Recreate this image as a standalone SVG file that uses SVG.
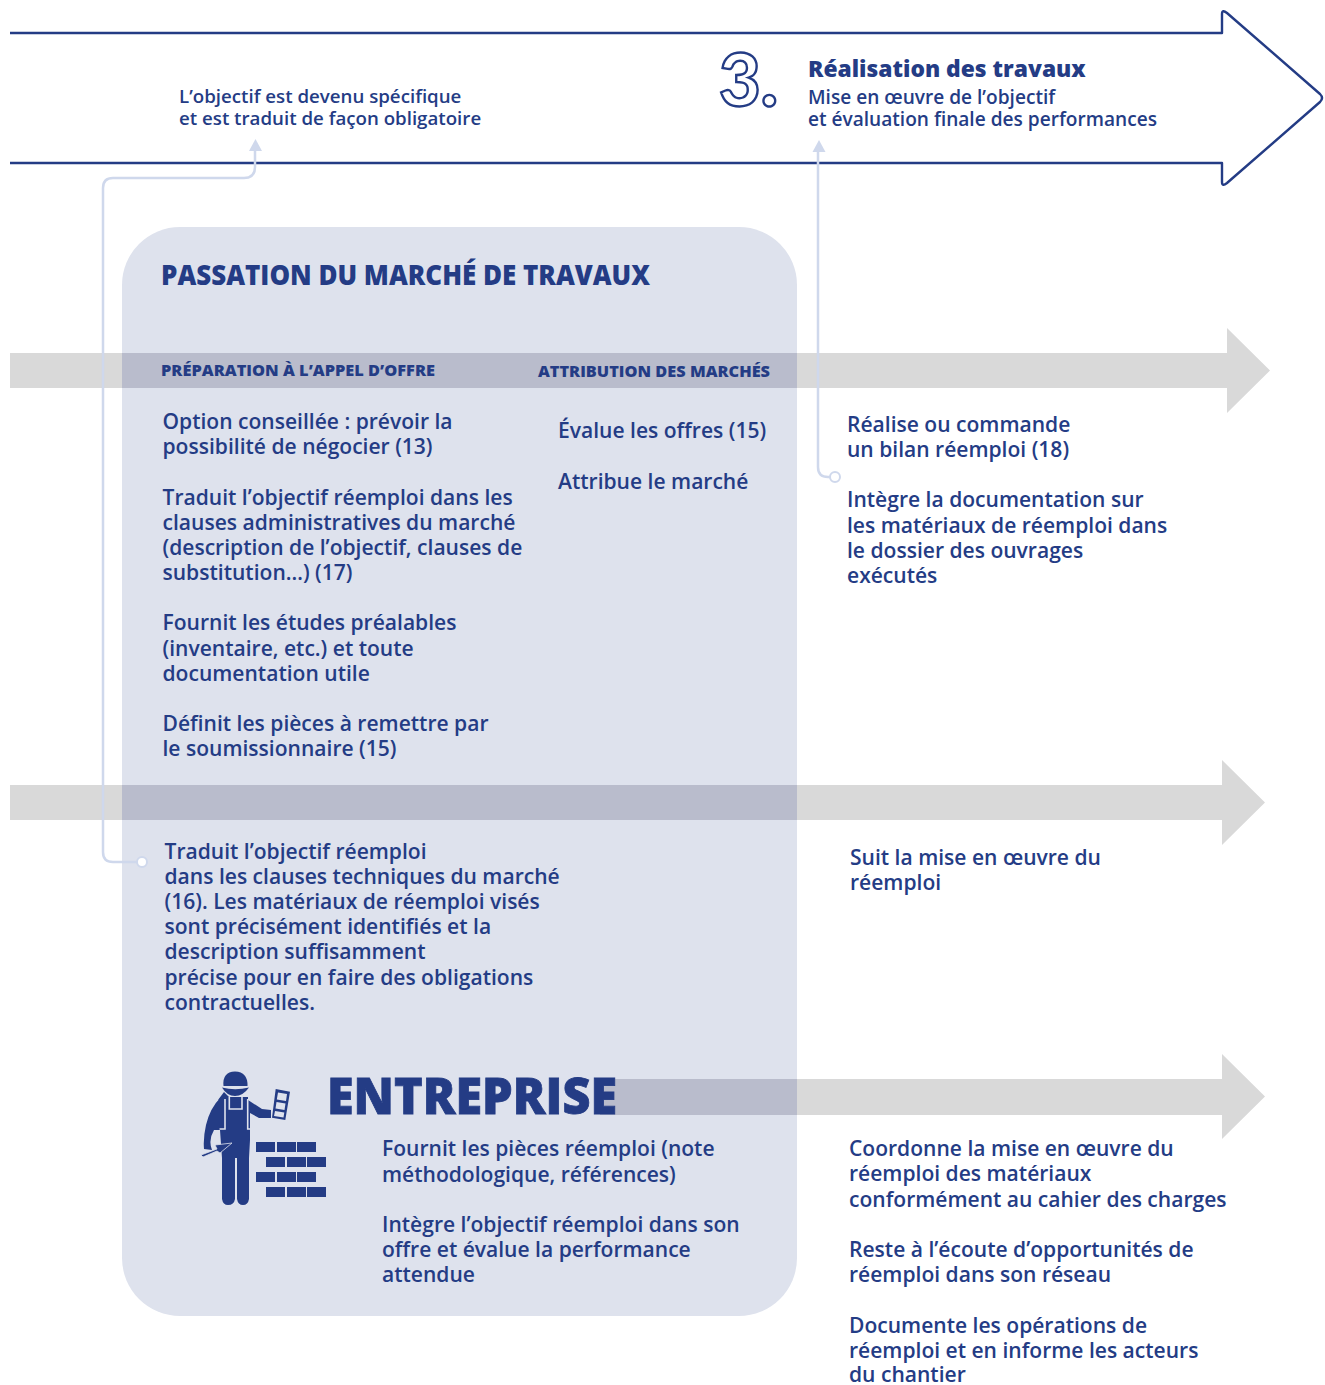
<svg xmlns="http://www.w3.org/2000/svg" width="1325" height="1385" viewBox="0 0 1325 1385">
<style>
text{font-family:"Open Sans","Noto Sans",sans-serif;fill:#243c85;font-weight:600}
.b{font-size:21.050px}
.s{font-size:19.100px}
.o{font-size:18.700px}
.h{font-size:16.500px;font-weight:800}
.band{fill:#d9d9d9}
.over{fill:#b9bccc}
.conn{fill:none;stroke:#cfd8ec;stroke-width:2.500}
.brick{fill:#243c85}
.fig{fill:#243c85}
.cut{fill:none;stroke:#dee2ed;stroke-width:1.600}
</style>
<rect width="1325" height="1385" fill="#fff"/>
<g id="main-arrow"><path d="M10 33H1222V14Q1222 9 1227 13L1320 94Q1324 98 1320 102L1227 183Q1222 187 1222 182V163H10" fill="none" stroke="#243c85" stroke-width="2.400" stroke-linejoin="round"/>
<text x="719" y="105.500" style="font-size:72px;font-weight:900;font-family:'Lato','Noto Sans',sans-serif;fill:none;stroke:#243c85;stroke-width:2.400">3.</text>
<text x="808" y="77" style="font-size:22.800px;font-weight:800">Réalisation des travaux</text>
<text x="808" y="104" class="s">Mise en œuvre de l’objectif</text>
<text x="808" y="126" class="s">et évaluation finale des performances</text>
</g>
<g id="objectif"><text x="179" y="103" class="o">L’objectif est devenu spécifique</text>
<text x="179" y="125" class="o">et est traduit de façon obligatoire</text></g>
<g id="bands">
<path class="band" d="M10 353H1227V328L1270 370.500L1227 413V388H10Z"/>
<path class="band" d="M10 785H1222V760L1265 802.500L1222 845V820H10Z"/>
<path class="band" d="M600 1079H1222V1054L1265 1096.500L1222 1139V1115H600Z"/>
</g>
<g id="panel"><rect x="122" y="227" width="675" height="1089" rx="58" fill="#dee2ed"/>
<rect class="over" x="122" y="353" width="675" height="35"/>
<rect class="over" x="122" y="785" width="675" height="35"/>
<rect class="over" x="600" y="1079" width="197" height="36"/>
<text x="161" y="285" textLength="489" lengthAdjust="spacingAndGlyphs" style="font-size:28px;font-weight:800">PASSATION DU MARCHÉ DE TRAVAUX</text>
<text x="161" y="376" class="h" textLength="274" lengthAdjust="spacingAndGlyphs">PRÉPARATION À L’APPEL D’OFFRE</text>
<text x="538" y="377" class="h" textLength="232" lengthAdjust="spacingAndGlyphs">ATTRIBUTION DES MARCHÉS</text></g>
<g id="preparation">
<text x="162.500" y="429" class="b">Option conseillée : prévoir la</text>
<text x="162.500" y="454" class="b">possibilité de négocier (13)</text>
<text x="162.500" y="505" class="b">Traduit l’objectif réemploi dans les</text>
<text x="162.500" y="530" class="b">clauses administratives du marché</text>
<text x="162.500" y="555" class="b">(description de l’objectif, clauses de</text>
<text x="162.500" y="580" class="b">substitution…) (17)</text>
<text x="162.500" y="630" class="b">Fournit les études préalables</text>
<text x="162.500" y="656" class="b">(inventaire, etc.) et toute</text>
<text x="162.500" y="681" class="b">documentation utile</text>
<text x="162.500" y="731" class="b">Définit les pièces à remettre par</text>
<text x="162.500" y="756" class="b">le soumissionnaire (15)</text>
</g>
<g id="attribution">
<text x="558" y="438" class="b">Évalue les offres (15)</text>
<text x="558" y="489" class="b">Attribue le marché</text>
</g>
<g id="realisation">
<text x="847" y="432" class="b">Réalise ou commande</text>
<text x="847" y="457" class="b">un bilan réemploi (18)</text>
<text x="847" y="507" class="b">Intègre la documentation sur</text>
<text x="847" y="533" class="b">les matériaux de réemploi dans</text>
<text x="847" y="558" class="b">le dossier des ouvrages</text>
<text x="847" y="583" class="b">exécutés</text>
</g>
<g id="clauses">
<text x="164.500" y="859" class="b">Traduit l’objectif réemploi</text>
<text x="164.500" y="884" class="b">dans les clauses techniques du marché</text>
<text x="164.500" y="909" class="b">(16). Les matériaux de réemploi visés</text>
<text x="164.500" y="934" class="b">sont précisément identifiés et la</text>
<text x="164.500" y="959" class="b">description suffisamment</text>
<text x="164.500" y="985" class="b">précise pour en faire des obligations</text>
<text x="164.500" y="1010" class="b">contractuelles.</text>
</g>
<g id="suivi">
<text x="850" y="865" class="b">Suit la mise en œuvre du</text>
<text x="850" y="890" class="b">réemploi</text>
</g>
<g id="entreprise">
<text x="327" y="1114" textLength="290" lengthAdjust="spacingAndGlyphs" style="font-size:49px;font-weight:800;stroke:#243c85;stroke-width:.8">ENTREPRISE</text>
<g id="worker">
<path class="fig" d="M223.500 1086Q222 1072 235 1071.500Q248 1072 247.500 1086Z"/>
<path class="fig" d="M222 1087.500Q235 1091 249 1087.500Q243 1096 235 1096Q227 1096 222 1087.500Z"/>
<path class="fig" d="M218 1100L224 1092L229 1097Z"/>
<path class="fig" d="M221 1097H248V1100L262 1109L271 1110V1118L259 1118L250 1113V1140L249 1158V1199Q248 1205 243 1205Q238 1205 237 1199V1158H235V1199Q234 1205 228 1205Q223 1205 222 1199V1158L220 1130L214 1130Q208 1140 212 1150L204 1149Q203 1138 206 1125Q210 1108 221 1097Z"/>
<path class="cut" d="M229.300 1097V1109H242V1097M225 1099V1129H219.500M247.700 1099V1129H252.500"/>
<path class="fig" d="M201 1155L217 1149L215 1145L232 1143L220 1153L217 1151L203 1157Z" stroke="#dee2ed" stroke-width=".8"/>
<path d="M275.700 1089L290 1091.700L285.300 1120L272 1117.700Z M278 1092.500L276.800 1099.500L286 1101L287 1094Z M276.500 1102L275.500 1108.500L284.500 1110L285.500 1103.500Z M275 1111L274 1116L283.500 1117.500L284.300 1112.500Z" class="fig" fill-rule="evenodd"/>
</g>
<g id="bricks">
<rect class="brick" x="256" y="1142" width="19" height="10"/><rect class="brick" x="277" y="1142" width="19" height="10"/><rect class="brick" x="297" y="1142" width="19" height="10"/>
<rect class="brick" x="266" y="1157" width="19" height="10"/><rect class="brick" x="287" y="1157" width="19" height="10"/><rect class="brick" x="307" y="1157" width="19" height="10"/>
<rect class="brick" x="256" y="1172" width="19" height="10"/><rect class="brick" x="277" y="1172" width="19" height="10"/><rect class="brick" x="297" y="1172" width="19" height="10"/>
<rect class="brick" x="266" y="1187" width="19" height="10"/><rect class="brick" x="287" y="1187" width="19" height="10"/><rect class="brick" x="307" y="1187" width="19" height="10"/>
</g>
<text x="382" y="1156" class="b">Fournit les pièces réemploi (note</text>
<text x="382" y="1182" class="b">méthodologique, références)</text>
<text x="382" y="1232" class="b">Intègre l’objectif réemploi dans son</text>
<text x="382" y="1257" class="b">offre et évalue la performance</text>
<text x="382" y="1282" class="b">attendue</text>
</g>
<g id="chantier">
<text x="849" y="1156" class="b">Coordonne la mise en œuvre du</text>
<text x="849" y="1181" class="b">réemploi des matériaux</text>
<text x="849" y="1207" class="b">conformément au cahier des charges</text>
<text x="849" y="1257" class="b">Reste à l’écoute d’opportunités de</text>
<text x="849" y="1282" class="b">réemploi dans son réseau</text>
<text x="849" y="1333" class="b">Documente les opérations de</text>
<text x="849" y="1358" class="b">réemploi et en informe les acteurs</text>
<text x="849" y="1382" class="b">du chantier</text>
</g>
<g id="connectors">
<path class="conn" d="M137 862H113Q103 862 103 852V188Q103 178 113 178H244Q255 178 255 167V150"/>
<path d="M249 151L255.500 139L262 151Z" fill="#cfd8ec"/>
<circle cx="142" cy="862" r="5" fill="#fff" stroke="#cfd8ec" stroke-width="2"/>
<path class="conn" d="M830 477H828Q818 477 818 467V150"/>
<path d="M812.500 152L819 140L825.500 152Z" fill="#cfd8ec"/>
<circle cx="835" cy="477" r="5" fill="#fff" stroke="#cfd8ec" stroke-width="2"/>
</g>
</svg>
